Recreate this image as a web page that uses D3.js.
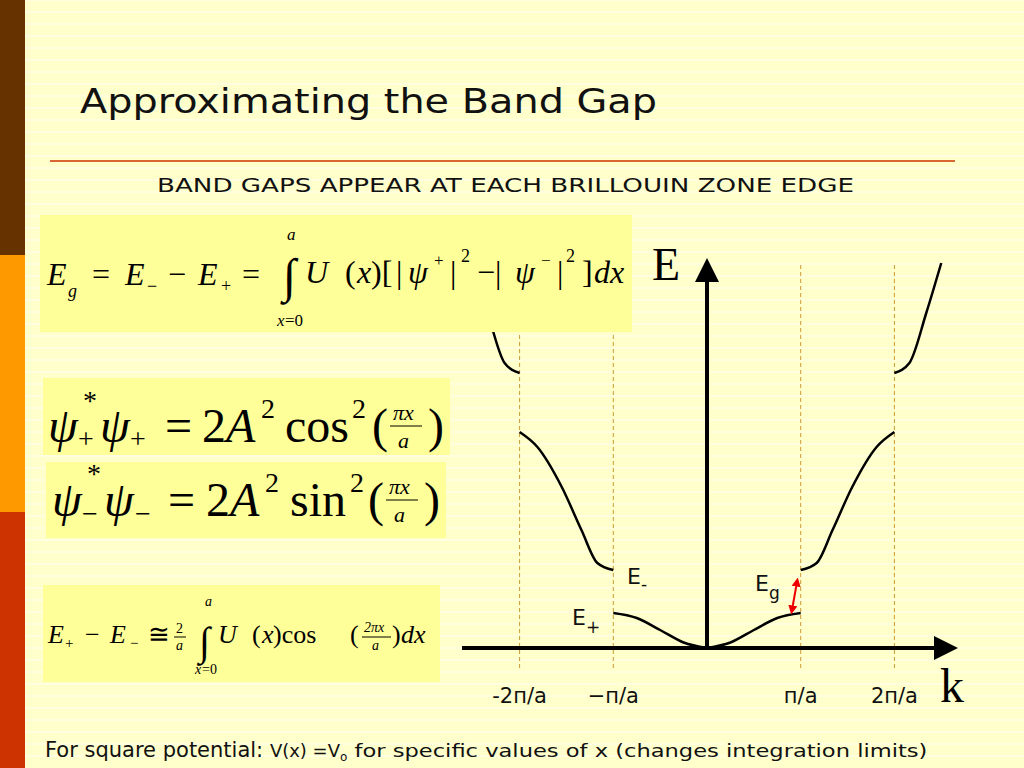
<!DOCTYPE html>
<html><head><meta charset="utf-8">
<script src="https://cdn.jsdelivr.net/npm/d3@7"></script>
<style>body{margin:0;background:#ffffcc}</style>
</head><body><div id="app"></div>
<script>
'use strict';

// band data: k in units of pi/a, E in arbitrary units
var band1 = [[0,0],[0.25,0.55],[0.5,1.8],[0.75,3.0],[1,3.5]];
var band2 = [[1,7.8],[1.17,8.5],[1.34,11.8],[1.55,16.1],[1.81,20.1],[2,21.6]];
var band3 = [[2,27.5],[2.16,28.5],[2.34,33.5],[2.5,38.5]];
var zoneEdges = [-2,-1,1,2];
var tickLabels = ['-2\u043f/a','\u2212\u043f/a','\u043f/a','2\u043f/a'];

var W = 1024, H = 768;
var svg = d3.select('#app').append('svg').attr('width', W).attr('height', H)
  .style('display','block');

// background + faint stripes
svg.append('rect').attr('width', W).attr('height', H).attr('fill', '#ffffcc');
svg.append('g').selectAll('line').data(d3.range(0, H, 12)).join('line')
  .attr('x1', 25).attr('x2', W).attr('y1', d => d).attr('y2', d => d)
  .attr('stroke', '#ffffff').attr('stroke-opacity', 0.5).attr('stroke-width', 1.5);
[['#663300',0,255],['#ff9900',255,512],['#cc3300',512,768]].forEach(function(s){
  svg.append('rect').attr('x',0).attr('y',s[1]).attr('width',25).attr('height',s[2]-s[1]).attr('fill',s[0]);
});

svg.append('text').attr('x',80).attr('y',113).attr('font-family','DejaVu Sans')
  .attr('font-size',34).attr('fill','#111').attr('textLength',577).attr('lengthAdjust','spacingAndGlyphs')
  .text('Approximating the Band Gap');
svg.append('line').attr('x1',50).attr('x2',955).attr('y1',161).attr('y2',161)
  .attr('stroke','#cc3300').attr('stroke-width',1.5);
svg.append('text').attr('x',157).attr('y',192)
  .attr('font-family','DejaVu Sans').attr('font-size',20).attr('fill','#111')
  .attr('textLength',697).attr('lengthAdjust','spacingAndGlyphs')
  .text('BAND GAPS APPEAR AT EACH BRILLOUIN ZONE EDGE');

// chart
var x = d3.scaleLinear().domain([-1,1]).range([707-93.7, 707+93.7]);
var y = d3.scaleLinear().domain([0,40]).range([648,248]);
var g = svg.append('g');

g.selectAll('line.edge').data(zoneEdges).join('line').attr('class','edge')
  .attr('x1', d => x(d)).attr('x2', d => x(d)).attr('y1', 265).attr('y2', 668)
  .attr('stroke','#cc9933').attr('stroke-width',1).attr('stroke-dasharray','4,3');

var line = d3.line().x(d => x(d[0])).y(d => y(d[1])).curve(d3.curveMonotoneX);
[band1, band2, band3].forEach(function(b){
  var mirror = b.map(p => [-p[0], p[1]]).reverse();
  [b, mirror].forEach(function(pts){
    g.append('path').attr('d', line(pts)).attr('fill','none')
      .attr('stroke','#000').attr('stroke-width',2.5);
  });
});

// axes
svg.append('defs').append('marker').attr('id','arr').attr('viewBox','0 0 10 10')
  .attr('refX',0).attr('refY',5).attr('markerUnits','userSpaceOnUse').attr('orient','auto')
  .attr('markerWidth',36).attr('markerHeight',24)
  .append('path').attr('d','M0,0L10,5L0,10z').attr('fill','#000');
g.append('line').attr('x1',462).attr('x2',934).attr('y1',y(0)).attr('y2',y(0))
  .attr('stroke','#000').attr('stroke-width',4).attr('marker-end','url(#arr)');
g.append('line').attr('x1',x(0)).attr('x2',x(0)).attr('y1',y(0)).attr('y2',282)
  .attr('stroke','#000').attr('stroke-width',4).attr('marker-end','url(#arr)');

g.selectAll('text.tick').data(zoneEdges).join('text').attr('class','tick')
  .attr('x', d => x(d)).attr('y', 703).attr('text-anchor','middle')
  .attr('font-family','DejaVu Sans').attr('font-size',21).attr('fill','#111')
  .text((d,i) => tickLabels[i]);
g.append('text').attr('x',652).attr('y',280).attr('font-family','Liberation Serif')
  .attr('font-size',46).text('E');
g.append('text').attr('x',940).attr('y',702).attr('font-family','Liberation Serif')
  .attr('font-size',48).text('k');

function sub(x0, y0, main, s, sy){
  var t = g.append('text').attr('x',x0).attr('y',y0).attr('font-family','DejaVu Sans')
    .attr('font-size',22).attr('fill','#111');
  t.append('tspan').text(main);
  t.append('tspan').attr('dy',sy).attr('font-size',17).text(s);
}
sub(627, 584, 'E', '-', 6);
sub(572, 625, 'E', '+', 8);
sub(755, 591, 'E', 'g', 8);

// Eg arrow
svg.append('defs').append('marker').attr('id','ra').attr('viewBox','0 0 10 10')
  .attr('refX',5).attr('refY',5).attr('markerWidth',9).attr('markerHeight',9)
  .attr('orient','auto-start-reverse').attr('markerUnits','userSpaceOnUse')
  .append('path').attr('d','M0,0L10,5L0,10z').attr('fill','#e00');
g.append('line').attr('x1',797).attr('y1',582).attr('x2',792).attr('y2',610)
  .attr('stroke','#e00').attr('stroke-width',2)
  .attr('marker-start','url(#ra)').attr('marker-end','url(#ra)');

// formula boxes
var boxes = [[40,215,592,117],[43,378,407,77],[46,462,400,76],[43,585,397,97]];
svg.selectAll('rect.box').data(boxes).join('rect').attr('class','box')
  .attr('x',d=>d[0]).attr('y',d=>d[1]).attr('width',d=>d[2]).attr('height',d=>d[3])
  .attr('fill','#ffff99');

// absolutely placed formula pieces: [x, y, size, text, italic]
function put(list){
  list.forEach(function(p){
    var t = svg.append('text').attr('x',p[0]).attr('y',p[1]).attr('font-family','Liberation Serif')
      .attr('font-size',p[2]).attr('fill','#000').text(p[3]);
    if (p[4]) t.attr('font-style','italic');
  });
}
function bar(x1, x2, yy){
  svg.append('line').attr('x1',x1).attr('x2',x2).attr('y1',yy).attr('y2',yy).attr('stroke','#000');
}
// box 1
put([[47,285,32,'E',1],[68,297,18,'g',1],[92,285,32,'=',0],[125,285,32,'E',1],[147,292,18,'\u2212'],
  [168,285,32,'\u2212'],[198,285,32,'E',1],[221,292,18,'+'],[242,285,32,'='],
  [283,292,48,'\u222b'],[287,240,17,'a',1],[277,326,17,'x',1],[285,326,17,'=0'],
  [305,283,32,'U',1],[345,283,32,'(',0],[357,283,32,'x',1],[371,283,32,')[',0],[396,283,32,'|',0],
  [408,283,32,'\u03c8',1],[434,266,17,'+'],[450,283,32,'|'],[461,262,18,'2'],
  [477,283,32,'\u2212|'],[515,283,32,'\u03c8',1],[541,266,17,'\u2212'],[557,283,32,'|'],[566,262,18,'2'],
  [582,283,32,']'],[594,283,32,'dx',1]]);
// box 2
put([[48,442,48,'\u03c8',1],[83,410,28,'*'],[78,448,28,'+'],[100,442,48,'\u03c8',1],[130,448,28,'+'],
  [165,442,48,'='],[202,442,48,'2'],[226,442,48,'A',1],[261,418,28,'2'],[285,442,48,'cos'],
  [352,418,28,'2'],[372,442,48,'('],[428,442,48,')'],
  [393,420,22,'\u03c0x',1],[398,448,22,'a',1]]);
bar(390, 422, 426);
// box 3
put([[52,516,48,'\u03c8',1],[87,483,28,'*'],[82,523,28,'\u2212'],[104,516,48,'\u03c8',1],[135,523,28,'\u2212'],
  [168,516,48,'='],[206,516,48,'2'],[230,516,48,'A',1],[265,492,28,'2'],[290,516,48,'sin'],
  [350,492,28,'2'],[368,516,48,'('],[424,516,48,')'],
  [389,494,22,'\u03c0x',1],[394,522,22,'a',1]]);
bar(386, 418, 500);
// box 4
put([[48,643,26,'E',1],[65,648,15,'+'],[85,643,26,'\u2212'],[110,643,26,'E',1],[130,648,15,'\u2212'],
  [148,643,26,'\u2245'],[176,633,14,'2'],[176,650,14,'a',1],
  [199,655,40,'\u222b'],[205,606,14,'a',1],[195,674,14,'x',1],[202,674,14,'=0'],
  [218,643,26,'U',1],[252,643,26,'('],[262,643,26,'x',1],[273,643,26,')cos'],[350,643,26,'('],
  [364,632,14,'2\u03c0x',1],[372,650,14,'a',1],[392,643,26,')'],[401,643,26,'dx',1]]);
bar(174, 186, 637);
bar(362, 391, 637);

// footer
var f = svg.append('text').attr('x',45).attr('y',757).attr('font-family','DejaVu Sans').attr('fill','#111');
f.append('tspan').attr('font-size',21).text('For square potential: ');
f.append('tspan').attr('font-size',18).text('V(x) =V');
f.append('tspan').attr('font-size',12).attr('dy',4).text('o');
f.append('tspan').attr('font-size',18).attr('dy',-4).attr('textLength',580).attr('lengthAdjust','spacingAndGlyphs')
  .text(' for specific values of x (changes integration limits)');
</script>
</body></html>
